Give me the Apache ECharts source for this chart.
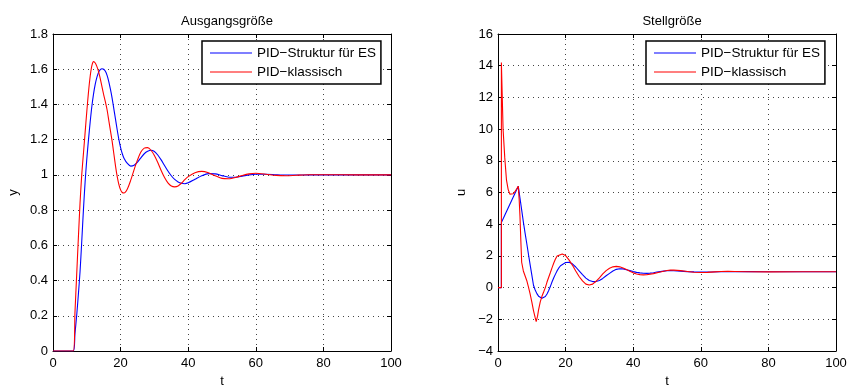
<!DOCTYPE html>
<html><head><meta charset="utf-8">
<script src="https://cdn.jsdelivr.net/npm/echarts@6/dist/echarts.min.js"></script>
<style>html,body{margin:0;padding:0;background:#fff}#c{width:850px;height:385px}</style>
</head><body><div id="c"></div>
<script>
// ---- Data: left plot (Ausgangsgröße, y) ----
const tY = [0, 6, 6.5, 7, 7.5, 8, 8.5, 9, 9.5, 10, 10.5, 11, 11.5, 12, 12.5, 13, 13.5, 14, 14.5, 15, 15.5, 16, 16.5, 17, 17.5, 18, 18.5, 19, 19.5, 20, 20.5, 21,
  22, 23, 24, 25, 26, 27, 28, 29, 30, 31, 32, 33, 34, 35, 36, 37, 38, 39, 40,
  42, 44, 46, 48, 50, 52, 54, 56, 58, 60, 63, 66, 69, 72, 76, 80, 90, 100];
const yES = [0, 0, 0.1, 0.2, 0.32, 0.45, 0.62, 0.8, 0.96, 1.09, 1.2, 1.3, 1.39, 1.46, 1.515, 1.555, 1.583, 1.598, 1.603, 1.6, 1.588, 1.565, 1.53, 1.485, 1.435, 1.375, 1.315, 1.255, 1.2, 1.155, 1.12, 1.095,
  1.065, 1.05, 1.055, 1.072, 1.097, 1.12, 1.134, 1.14, 1.133, 1.113, 1.085, 1.053, 1.022, 0.995, 0.974, 0.96, 0.952, 0.95, 0.955,
  0.975, 0.995, 1.007, 1.006, 0.996, 0.987, 0.987, 0.993, 1.0, 1.004, 1.004, 1.001, 0.999, 0.999, 1.0, 1.0, 1.0, 1.0];
const yKl = [0, 0, 0.22, 0.43, 0.64, 0.84, 1.0, 1.12, 1.24, 1.36, 1.47, 1.56, 1.62, 1.643, 1.635, 1.615, 1.585, 1.545, 1.5, 1.455, 1.415, 1.37, 1.31, 1.25, 1.19, 1.12, 1.05, 0.99, 0.945, 0.915, 0.9, 0.897,
  0.92, 0.97, 1.03, 1.085, 1.13, 1.152, 1.155, 1.14, 1.11, 1.07, 1.025, 0.985, 0.955, 0.937, 0.932, 0.937, 0.953, 0.973, 0.99,
  1.012, 1.02, 1.012, 0.995, 0.98, 0.978, 0.985, 0.997, 1.006, 1.009, 1.004, 0.997, 0.995, 0.998, 1.001, 1.001, 1.0, 1.0];

// ---- Data: right plot (Stellgröße, u) ----
const tUES = [0, 1, 1, 2, 3, 4, 5, 6, 6.5, 7, 7.5, 8, 8.5, 9, 9.5, 10, 10.5, 11, 11.5, 12, 12.5, 13, 13.5, 14, 14.5, 15, 15.5, 16, 16.5, 17,
  17.5, 18, 18.5, 19, 20, 21, 22, 23, 24, 25, 26, 27, 28, 29, 30, 31, 32, 33, 34, 35, 36, 37, 38, 39, 40, 41, 42, 43, 44, 45,
  46, 47, 48, 49, 50, 51, 52, 54, 56, 58, 60, 63, 66, 70, 75, 80, 90, 100];
const uES = [0, 0, 4.1, 4.56, 5.02, 5.48, 5.94, 6.4, 5.65, 4.9, 4.15, 3.45, 2.8, 2.12, 1.45, 0.8, 0.15, -0.15, -0.38, -0.54, -0.63, -0.67, -0.68, -0.56, -0.4, -0.18, 0.08, 0.37, 0.62, 0.85,
  1.07, 1.24, 1.38, 1.49, 1.58, 1.6, 1.5, 1.3, 1.06, 0.82, 0.6, 0.45, 0.38, 0.38, 0.45, 0.58, 0.75, 0.9, 1.05, 1.15, 1.19, 1.18, 1.13, 1.07, 1.01, 0.96, 0.93, 0.905, 0.9, 0.915,
  0.94, 0.98, 1.01, 1.04, 1.06, 1.07, 1.065, 1.04, 1.01, 0.99, 0.98, 0.985, 1.0, 1.01, 1.005, 1.0, 1.0, 1.0];
const tUKl = [0, 1, 1, 1.5, 2, 2.5, 3, 3.5, 4, 4.5, 5, 5.5, 6, 6.25, 6.5, 6.75, 7, 7.5, 8, 8.5, 9, 9.5, 10, 10.5, 11, 11.3, 11.7, 12, 12.5, 13,
  13.5, 14, 14.5, 15, 15.5, 16, 16.5, 17, 17.5, 18, 19, 20, 21, 22, 23, 24, 25, 26, 27, 28, 29, 30, 31, 32, 33, 34, 35, 36, 37, 38,
  39, 40, 41, 42, 43, 44, 46, 48, 50, 51, 52, 54, 56, 58, 60, 62, 64, 66, 68, 70, 74, 80, 90, 100];
const uKl = [0, 0, 14.2, 10.0, 8.2, 6.8, 6.2, 5.9, 5.85, 5.92, 6.05, 6.22, 6.4, 5.6, 4.5, 3.0, 1.6, 1.05, 0.75, 0.45, 0.05, -0.4, -0.9, -1.45, -1.9, -2.15, -1.8, -1.4, -0.9, -0.55,
  -0.28, 0.0, 0.35, 0.65, 0.95, 1.26, 1.55, 1.8, 2.0, 2.09, 2.12, 2.02, 1.75, 1.42, 1.05, 0.7, 0.42, 0.22, 0.16, 0.22, 0.4, 0.62, 0.86, 1.07, 1.22, 1.31, 1.34, 1.31, 1.24, 1.14,
  1.03, 0.93, 0.86, 0.82, 0.8, 0.81, 0.88, 0.98, 1.08, 1.1, 1.1, 1.07, 1.02, 0.97, 0.95, 0.96, 0.99, 1.02, 1.03, 1.02, 1.0, 0.995, 1.0, 1.0];

// ---- Axis / text ----
const titles = ['Ausgangsgröße', 'Stellgröße'];
const xName = 't';
const yNames = ['y', 'u'];
const seriesNames = ['PID\u2212Struktur für ES', 'PID\u2212klassisch'];
const xRange = [0, 100, 20];
const yRanges = [[0, 1.8, 0.2], [-4, 16, 2]];

const FONT = '"Liberation Sans", Arial, Helvetica, sans-serif';
const zip = (t, v) => t.map((x, i) => [x, v[i]]);
const fmt = v => String(parseFloat(Number(v).toFixed(2))).replace('-', '\u2212');

const grids = [
  {left: 53, top: 34, width: 338, height: 317, outerBoundsMode: 'none', containLabel: false},
  {left: 498, top: 34, width: 338, height: 317, outerBoundsMode: 'none', containLabel: false}
];

const xAxes = [], yAxes = [];
[0, 1].forEach(g => {
  xAxes.push({
    type: 'value', gridIndex: g, min: xRange[0], max: xRange[1], interval: xRange[2],
    name: xName, nameLocation: 'middle', nameGap: 22,
    nameTextStyle: {fontFamily: FONT, fontSize: 13, color: '#000'},
    axisLine: {onZero: false, lineStyle: {color: '#000', width: 1}},
    axisTick: {inside: true, length: 4, lineStyle: {color: '#000'}},
    axisLabel: {fontFamily: FONT, fontSize: 13, color: '#000', margin: 6, formatter: fmt},
    splitLine: {show: true, lineStyle: {color: '#444', width: 1, type: [1, 4]}}
  });
  xAxes.push({
    type: 'value', gridIndex: g, position: 'top', min: xRange[0], max: xRange[1], interval: xRange[2],
    axisLine: {onZero: false, lineStyle: {color: '#000', width: 1}},
    axisTick: {inside: true, length: 4, lineStyle: {color: '#000'}},
    axisLabel: {show: false}, splitLine: {show: false}
  });
  const r = yRanges[g];
  yAxes.push({
    type: 'value', gridIndex: g, min: r[0], max: r[1], interval: r[2],
    name: yNames[g], nameLocation: 'middle', nameGap: g === 0 ? 33 : 30,
    nameTextStyle: {fontFamily: FONT, fontSize: 13, color: '#000'},
    axisLine: {show: true, onZero: false, lineStyle: {color: '#000', width: 1}},
    axisTick: {show: true, inside: true, length: 4, lineStyle: {color: '#000'}},
    axisLabel: {fontFamily: FONT, fontSize: 13, color: '#000', margin: 5, formatter: fmt},
    splitLine: {show: true, lineStyle: {color: '#444', width: 1, type: [1, 4]}}
  });
  yAxes.push({
    type: 'value', gridIndex: g, position: 'right', min: r[0], max: r[1], interval: r[2],
    axisLine: {show: true, onZero: false, lineStyle: {color: '#000', width: 1}},
    axisTick: {show: true, inside: true, length: 4, lineStyle: {color: '#000'}},
    axisLabel: {show: false}, splitLine: {show: false}
  });
});

const mkSeries = (name, data, xi, yi, color, smooth) => ({
  type: 'line', name, data, xAxisIndex: xi, yAxisIndex: yi,
  showSymbol: false, symbol: 'none', smooth: smooth, animation: false,
  lineStyle: {color, width: 1.1}, itemStyle: {color}
});

const legendBase = {
  orient: 'vertical', itemWidth: 42, itemHeight: 1.2, itemGap: 5, icon: 'rect',
  padding: [5, 5, 5, 8], borderColor: '#000', borderWidth: 1.5, backgroundColor: '#fff',
  textStyle: {fontFamily: FONT, fontSize: 13.5, color: '#000'},
  data: seriesNames, selectedMode: false
};

const option = {
  animation: false,
  backgroundColor: '#fff',
  title: [
    {text: titles[0], left: 222, top: 10, textAlign: 'center',
     textStyle: {fontFamily: FONT, fontSize: 13, fontWeight: 'normal', color: '#000'}},
    {text: titles[1], left: 667, top: 10, textAlign: 'center',
     textStyle: {fontFamily: FONT, fontSize: 13, fontWeight: 'normal', color: '#000'}}
  ],
  grid: grids,
  xAxis: xAxes,
  yAxis: yAxes,
  legend: [
    Object.assign({}, legendBase, {left: 202, top: 41}),
    Object.assign({}, legendBase, {left: 646, top: 41})
  ],
  series: [
    mkSeries(seriesNames[0], zip(tY, yES), 0, 0, '#0000ff', 0.25),
    mkSeries(seriesNames[1], zip(tY, yKl), 0, 0, '#ff0000', 0.25),
    mkSeries(seriesNames[0], zip(tUES, uES), 2, 2, '#0000ff', false),
    mkSeries(seriesNames[1], zip(tUKl, uKl), 2, 2, '#ff0000', false)
  ]
};

const chart = echarts.init(document.getElementById('c'), null, {renderer: 'canvas'});
chart.setOption(option);
</script>
</body></html>
